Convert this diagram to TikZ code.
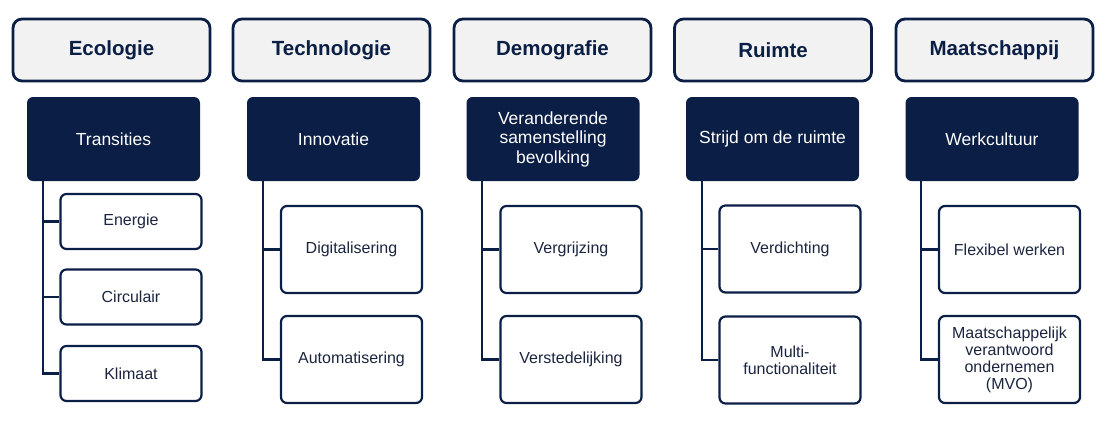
\documentclass[tikz,border=0pt]{standalone}
\usepackage{fontspec}
\setmainfont{Liberation Sans}
\definecolor{navy}{HTML}{0B1E45}
\definecolor{hdrfill}{HTML}{F2F2F3}
\definecolor{subtext}{HTML}{1C2540}
\begin{document}
\begin{tikzpicture}[x=1pt,y=-1pt,
  hdr/.style={draw=navy, line width=2.8pt, fill=hdrfill, rounded corners=9pt,
    minimum width=197pt, minimum height=62pt, text=navy,
    font=\fontsize{20.5}{24}\selectfont\bfseries},
  dark/.style={fill=navy, rounded corners=6pt, minimum width=173pt, minimum height=84pt,
    text=white, align=center, font=\fontsize{17.5}{19.5}\selectfont},
  sub/.style={draw=navy, line width=2.2pt, fill=white, rounded corners=6pt,
    minimum width=141pt, text=subtext, align=center,
    font=\fontsize{16}{17}\selectfont},
  subS/.style={sub, minimum height=55pt},
  subL/.style={sub, minimum height=87pt},
  conn/.style={draw=navy, line width=2.2pt}]
\useasboundingbox (0,0) rectangle (1112,429);
% headers
\node[hdr] (h1) at (111.5,50) {Ecologie};
\node[hdr] (h2) at (331.5,50) {Technologie};
\node[hdr] (h3) at (552.5,50) {Demografie};
\node[hdr] (h4) at (773,50) {Ruimte};
\node[hdr] (h5) at (994.5,50) {Maatschappij};
% dark boxes
\node[dark] (d1) at (113.5,139) {Transities};
\node[dark] (d2) at (333.5,139) {Innovatie};
\node[dark] (d3) at (553,139) {Veranderende\\samenstelling\\bevolking};
\node[dark] (d4) at (772.5,139) {Strijd om de ruimte};
\node[dark] (d5) at (992,139) {Werkcultuur};
% column 1
\node[subS] (s11) at (131,221.5) {Energie};
\node[subS] (s12) at (131,297) {Circulair};
\node[subS] (s13) at (131,373.5) {Klimaat};
% column 2
\node[subL] (s21) at (351.5,249.5) {Digitalisering};
\node[subL] (s22) at (351.5,359.5) {Automatisering};
% column 3
\node[subL] (s31) at (571,249.5) {Vergrijzing};
\node[subL] (s32) at (571,359.5) {Verstedelijking};
% column 4
\node[subL] (s41) at (790,249) {Verdichting};
\node[subL] (s42) at (790,360) {Multi-\\functionaliteit};
% column 5
\node[subL] (s51) at (1009.5,249.5) {Flexibel werken};
\node[subL] (s52) at (1009.5,359.5) {Maatschappelijk\\verantwoord\\ondernemen\\(MVO)};
% connectors
\coordinate (l1) at ([xshift=16pt]d1.south west);
\coordinate (l2) at ([xshift=16pt]d2.south west);
\coordinate (l3) at ([xshift=16pt]d3.south west);
\coordinate (l4) at ([xshift=16pt]d4.south west);
\coordinate (l5) at ([xshift=16pt]d5.south west);
\draw[conn] (l1) |- (s13.west);
\draw[conn] (l1 |- s11.west) -- (s11.west);
\draw[conn] (l1 |- s12.west) -- (s12.west);
\draw[conn] (l2) |- (s22.west);
\draw[conn] (l2 |- s21.west) -- (s21.west);
\draw[conn] (l3) |- (s32.west);
\draw[conn] (l3 |- s31.west) -- (s31.west);
\draw[conn] (l4) |- (s42.west);
\draw[conn] (l4 |- s41.west) -- (s41.west);
\draw[conn] (l5) |- (s52.west);
\draw[conn] (l5 |- s51.west) -- (s51.west);
\end{tikzpicture}
\end{document}
